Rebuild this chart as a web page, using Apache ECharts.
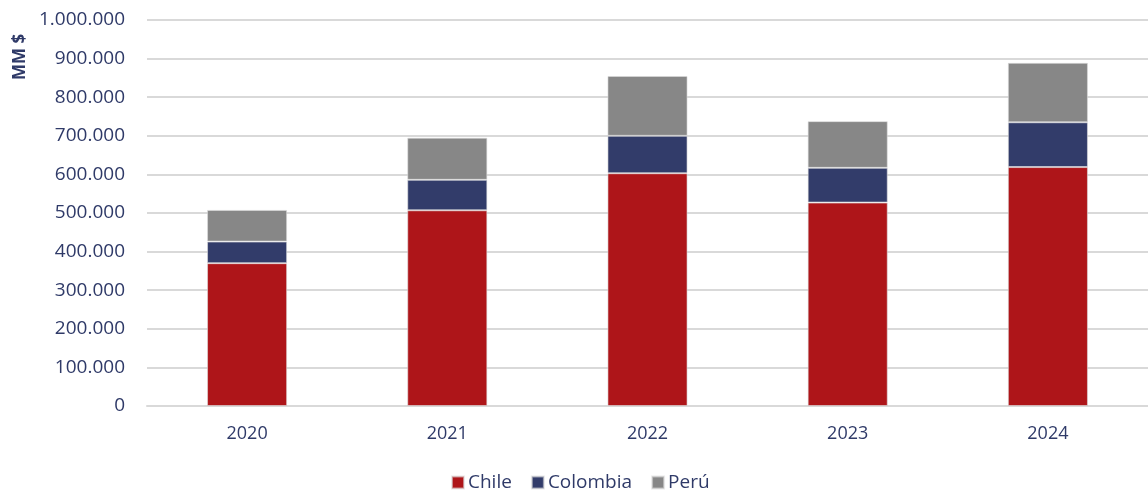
<!DOCTYPE html>
<html>
<head>
<meta charset="utf-8">
<script src="https://cdn.jsdelivr.net/npm/echarts@6/dist/echarts.min.js"></script>
<style>
  html, body { margin: 0; padding: 0; background: #ffffff; }
  #chart { width: 1148px; height: 496px; }
</style>
</head>
<body>
<div id="chart"></div>
<script>
// Years on the category axis
const years = ['2020', '2021', '2022', '2023', '2024'];
// Stacked amounts per country, in MM $
const chile = [370000, 507000, 603000, 527000, 619000];
const colombia = [56000, 79000, 97000, 90000, 116000];
const peru = [82000, 109000, 155000, 121000, 154000];

const textColor = '#2f3a68';
const fontFamily = '"Open Sans", "Noto Sans", sans-serif';

// Thousands separated with dots: 1.000.000
function fmt(v) {
  return String(v).replace(/\B(?=(\d{3})+(?!\d))/g, '.');
}

const chart = echarts.init(document.getElementById('chart'), null, { renderer: 'canvas' });

function barSeries(name, data, color) {
  return {
    name: name,
    type: 'bar',
    stack: 'total',
    data: data,
    barWidth: '40%',
    itemStyle: { color: color, borderColor: 'rgba(220,220,220,0.6)', borderWidth: 1 },
    emphasis: { disabled: true }
  };
}

chart.setOption({
  animation: false,
  textStyle: { fontFamily: fontFamily },
  grid: { left: 147, right: 0, top: 20, bottom: 90, containLabel: false },
  legend: {
    bottom: -1,
    left: 446,
    itemWidth: 12,
    itemHeight: 12,
    itemGap: 19,
    icon: 'rect',
    textStyle: { color: textColor, fontSize: 19, fontFamily: fontFamily, padding: [0, 0, 0, -1] },
    data: ['Chile', 'Colombia', 'Perú']
  },
  xAxis: {
    type: 'category',
    data: years,
    axisLine: { lineStyle: { color: '#d9d9d9', width: 2 } },
    axisTick: { show: false },
    axisLabel: { color: textColor, fontSize: 18, margin: 19 }
  },
  yAxis: {
    type: 'value',
    min: 0,
    max: 1000000,
    interval: 100000,
    axisLine: { show: false },
    axisTick: { show: false },
    splitLine: { lineStyle: { color: '#d9d9d9', width: 2 } },
    axisLabel: { color: textColor, fontSize: 19, margin: 22, formatter: fmt }
  },
  graphic: [{
    type: 'text',
    x: 12,
    y: 80,
    rotation: Math.PI / 2,
    style: {
      text: 'MM $',
      fill: textColor,
      font: 'bold 17px ' + fontFamily
    }
  }],
  series: [
    barSeries('Chile', chile, '#ae1519'),
    barSeries('Colombia', colombia, '#323c6a'),
    barSeries('Perú', peru, '#878787')
  ]
});
</script>
</body>
</html>
